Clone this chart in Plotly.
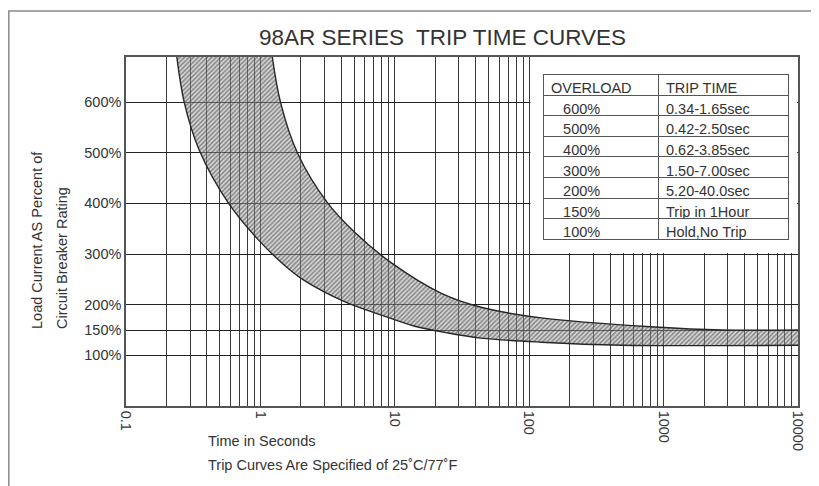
import plotly.graph_objects as go

# ---------------- data ----------------
title_text = "98AR SERIES\u00a0 TRIP TIME CURVES"

decade_vals = [0.1, 1, 10, 100, 1000, 10000]
decade_labels = ["0.1", "1", "10", "100", "1000", "10000"]

y_tick_vals = [100, 150, 200, 300, 400, 500, 600]
y_tick_labels = ["100%", "150%", "200%", "300%", "400%", "500%", "600%"]

# minimum trip time boundary (left / lower edge of band)
lower_pct = [700, 600, 505, 401, 328, 278, 249, 205, 180, 158, 144, 134, 126, 120, 120]
lower_t = [0.236, 0.271, 0.351, 0.577, 0.966, 1.51, 2.09, 4.31, 7.87, 13.9, 24.9, 43.8, 123, 486, 10000]

# maximum trip time boundary (right / upper edge of band)
upper_pct = [700, 600, 499, 401, 343, 282, 223, 195, 174, 156, 150, 150]
upper_t = [1.21, 1.41, 1.89, 3.16, 5.03, 9.5, 22.0, 43.8, 123, 857, 2710, 10000]

overload = ["600%", "500%", "400%", "300%", "200%", "150%", "100%"]
trip_time = ["0.34-1.65sec", "0.42-2.50sec", "0.62-3.85sec", "1.50-7.00sec",
             "5.20-40.0sec", "Trip in 1Hour", "Hold,No Trip"]
table_header = ["OVERLOAD", "TRIP TIME"]

x_title = "Time in Seconds"
x_note = "Trip Curves Are Specified of 25\u02daC/77\u02daF"
y_title_1 = "Load Current AS Percent of"
y_title_2 = "Circuit Breaker Rating"

# ---------------- figure ----------------
FONT = "Liberation Sans, Arial, sans-serif"
TXT = "#333333"

OFF = 8  # page margin of the browser
W, H = 819 - OFF, 486 - OFF
ML, MR, MT, MB = 126 - OFF, 21, 57 - OFF, 80
PW, PH = W - ML - MR, H - MT - MB


def px_x(px):
    return (px - OFF - ML) / PW


def px_y(py):
    return (H - MB - (py - OFF)) / PH


x_tickvals, x_ticktext = [], []
for i, d in enumerate(decade_vals[:-1]):
    for m in range(1, 10):
        x_tickvals.append(d * m)
        x_ticktext.append(decade_labels[i] if m == 1 else "")
x_tickvals.append(decade_vals[-1])
x_ticktext.append(decade_labels[-1])

fig = go.Figure()

fig.add_trace(go.Scatter(
    x=lower_t, y=lower_pct, mode="lines",
    line=dict(color="#262626", width=1.4, shape="spline", smoothing=1.0),
    showlegend=False, hoverinfo="skip",
))
fig.add_trace(go.Scatter(
    x=upper_t, y=upper_pct, mode="lines",
    line=dict(color="#262626", width=1.4, shape="spline", smoothing=1.0),
    fill="tonexty",
    fillcolor="rgba(175,175,175,0.45)",
    fillpattern=dict(shape="/", size=3.2, solidity=0.5,
                     fgcolor="#2e2e2e", bgcolor="rgba(175,175,175,0.45)"),
    showlegend=False, hoverinfo="skip",
))

nb = "\u00a0"
fig.add_trace(go.Table(
    domain=dict(x=[px_x(543), px_x(788)], y=[px_y(250), px_y(74)]),
    columnwidth=[115, 130],
    header=dict(values=table_header, align="left", height=21,
                line=dict(color="#555555", width=1), fill=dict(color="white"),
                font=dict(family=FONT, size=14.5, color=TXT)),
    cells=dict(values=[[nb * 3 + o for o in overload], trip_time],
               align="left", height=20.6,
               line=dict(color="#555555", width=1), fill=dict(color="white"),
               font=dict(family=FONT, size=14.5, color=TXT)),
))

fig.update_xaxes(
    type="log", range=[-1, 4],
    tickvals=x_tickvals, ticktext=x_ticktext, tickangle=90,
    tickfont=dict(family=FONT, size=14.5, color=TXT),
    showgrid=True, gridcolor="#3a3a3a", gridwidth=1,
    showline=True, linecolor="#555555", linewidth=1.5, mirror=True,
    ticks="", zeroline=False,
)
fig.update_yaxes(
    range=[0, 689],
    tickvals=y_tick_vals, ticktext=y_tick_labels,
    tickfont=dict(family=FONT, size=14.5, color=TXT),
    showgrid=True, gridcolor="#222222", gridwidth=1,
    showline=True, linecolor="#555555", linewidth=1.5, mirror=True,
    ticks="", zeroline=False,
)

shapes = [
    # white area behind the table
    dict(type="rect", xref="x", yref="y", x0=102, x1=9850, y0=302, y1=689,
         fillcolor="white", line=dict(width=0), layer="between"),
    # outer frame
    dict(type="rect", xref="paper", yref="paper",
         x0=px_x(8.8), x1=px_x(840), y0=px_y(520), y1=px_y(11),
         fillcolor="rgba(0,0,0,0)", line=dict(color="#8a8a8a", width=1.5),
         layer="below"),
]

annotations = [
    dict(text=y_title_1, textangle=-90, xref="paper", yref="paper",
         x=px_x(37), y=px_y(331), xanchor="center", yanchor="bottom",
         showarrow=False, font=dict(family=FONT, size=14.5, color=TXT)),
    dict(text=y_title_2, textangle=-90, xref="paper", yref="paper",
         x=px_x(62), y=px_y(331), xanchor="center", yanchor="bottom",
         showarrow=False, font=dict(family=FONT, size=14.5, color=TXT)),
    dict(text=x_title, xref="paper", yref="paper",
         x=px_x(206), y=px_y(441), xanchor="left", yanchor="middle",
         showarrow=False, font=dict(family=FONT, size=14.5, color=TXT)),
    dict(text=x_note, xref="paper", yref="paper",
         x=px_x(206), y=px_y(465), xanchor="left", yanchor="middle",
         showarrow=False, font=dict(family=FONT, size=14.5, color=TXT)),
]

fig.update_layout(
    width=W, height=H,
    margin=dict(l=ML, r=MR, t=MT, b=MB, pad=0),
    paper_bgcolor="white", plot_bgcolor="white",
    title=dict(text=title_text, xref="container", yref="container",
               x=(442.5 - OFF) / W, y=1 - (37 - OFF) / H,
               xanchor="center", yanchor="middle",
               font=dict(family=FONT, size=22.5, color=TXT)),
    shapes=shapes, annotations=annotations,
    showlegend=False,
)

fig.write_html("out.html")
